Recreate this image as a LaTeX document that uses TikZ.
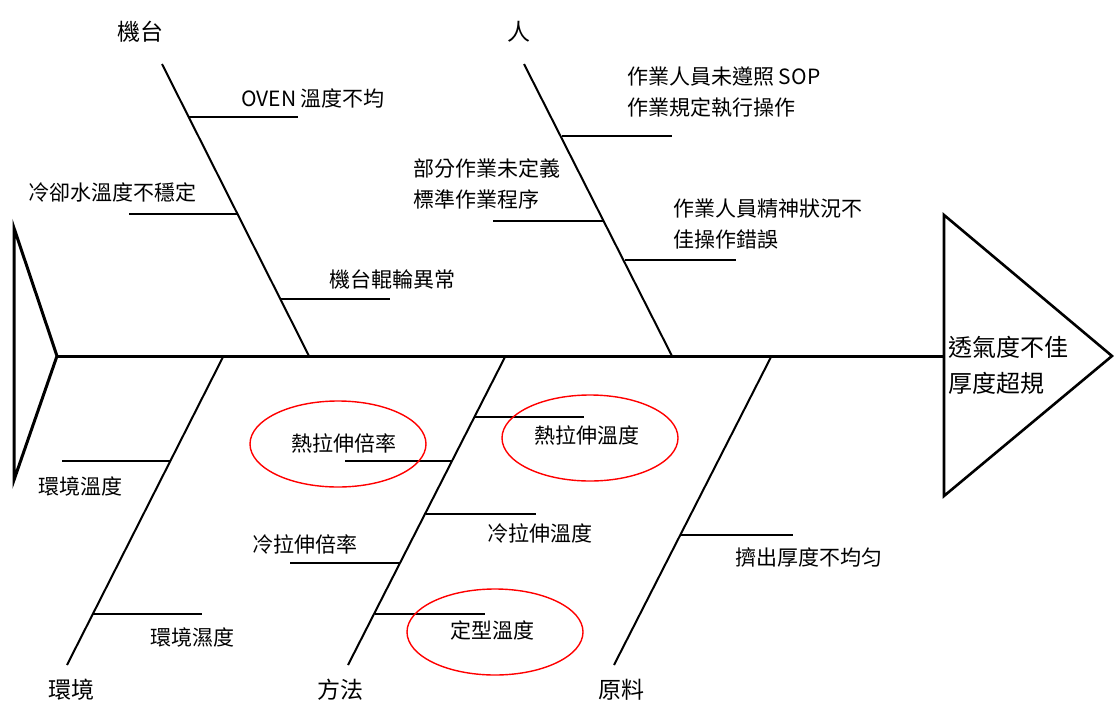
\documentclass[tikz,border=0pt]{standalone}
\usepackage{fontspec}
\setmainfont{Noto Sans CJK TC}
\usetikzlibrary{shapes.geometric}

\begin{document}
\begin{tikzpicture}[x=1pt,y=-1pt,
	bone/.style={line width=2pt},
	twig/.style={line width=2.4pt},
	txt/.style={inner sep=0pt,anchor=west,align=left,font=\fontsize{21}{31}\selectfont},
	cat/.style={inner sep=0pt,font=\fontsize{23}{27}\selectfont},
	ring/.style={draw=red,line width=1.4pt,ellipse,minimum width=176pt,minimum height=86pt}]
	\useasboundingbox (0,0) rectangle (1114,704);
	% tail, spine and head
	\coordinate (tt) at (14,228);
	\coordinate (tb) at (14,480);
	\coordinate (tm) at (57,356);
	\coordinate (ht) at (944,215);
	\coordinate (hb) at (944,496);
	\coordinate (hm) at (944,356);
	\coordinate (hp) at (1112,356);
	\draw[line width=3pt, line join=miter] (tt) -- (tb) -- (tm) -- cycle;
	\draw[line width=3pt] (tm) -- (hm);
	\draw[line width=2.6pt] (ht) -- (hp) -- (hb) -- cycle;
	\node[txt,font=\fontsize{24}{36}\selectfont] (effect) at (948,365) {透氣度不佳\\厚度超規};
	% main bones
	\coordinate (m0) at (162,64);  \coordinate (m1) at (309,356);
	\coordinate (p0) at (524,64);  \coordinate (p1) at (672,356);
	\coordinate (e0) at (223,357); \coordinate (e1) at (67,665);
	\coordinate (f0) at (505,357); \coordinate (f1) at (348,665);
	\coordinate (r0) at (771,357); \coordinate (r1) at (614,665);
	\draw[bone] (m0) -- (m1);
	\draw[bone] (p0) -- (p1);
	\draw[bone] (e0) -- (e1);
	\draw[bone] (f0) -- (f1);
	\draw[bone] (r0) -- (r1);
	\node[cat] (machine) at (140,32) {機台};
	\node[cat] (man) at (519,32) {人};
	\node[cat] (env) at (71,690) {環境};
	\node[cat] (method) at (340,690) {方法};
	\node[cat] (material) at (621,690) {原料};
	% machine
	\coordinate (ma) at (189,117); \coordinate (mb) at (298,117);
	\coordinate (mc) at (129,214); \coordinate (md) at (238,214);
	\coordinate (me) at (281,299); \coordinate (mf) at (390,299);
	\draw[twig] (ma) -- (mb);
	\draw[twig] (mc) -- (md);
	\draw[twig] (me) -- (mf);
	\node[txt] (oven) at (241,98) {OVEN 溫度不均};
	\node[txt] (water) at (28,192) {冷卻水溫度不穩定};
	\node[txt] (roller) at (329,279) {機台輥輪異常};
	% man
	\coordinate (pa) at (562,136); \coordinate (pb) at (672,136);
	\coordinate (pc) at (493,221); \coordinate (pd) at (603,221);
	\coordinate (pe) at (625,260); \coordinate (pf) at (736,260);
	\draw[twig] (pa) -- (pb);
	\draw[twig] (pc) -- (pd);
	\draw[twig] (pe) -- (pf);
	\node[txt] (sop) at (627,92) {作業人員未遵照 SOP\\作業規定執行操作};
	\node[txt] (undef) at (413,184) {部分作業未定義\\標準作業程序};
	\node[txt] (mind) at (673,224) {作業人員精神狀況不\\佳操作錯誤};
	% environment
	\coordinate (ea) at (62,461);  \coordinate (eb) at (170,461);
	\coordinate (ec) at (93,614);  \coordinate (ed) at (202,614);
	\draw[twig] (ea) -- (eb);
	\draw[twig] (ec) -- (ed);
	\node[txt] (etemp) at (38,486) {環境溫度};
	\node[txt] (ehum) at (150,637) {環境濕度};
	% method
	\coordinate (fa) at (475,417); \coordinate (fb) at (584,417);
	\coordinate (fc) at (345,461); \coordinate (fd) at (452,461);
	\coordinate (fe) at (426,514); \coordinate (ff) at (536,514);
	\coordinate (fg) at (290,563); \coordinate (fh) at (400,563);
	\coordinate (fi) at (375,614); \coordinate (fj) at (485,614);
	\draw[twig] (fa) -- (fb);
	\draw[twig] (fc) -- (fd);
	\draw[twig] (fe) -- (ff);
	\draw[twig] (fg) -- (fh);
	\draw[twig] (fi) -- (fj);
	\node[txt] (hotT) at (534,435) {熱拉伸溫度};
	\node[txt] (hotR) at (291,443) {熱拉伸倍率};
	\node[txt] (coldT) at (487,533) {冷拉伸溫度};
	\node[txt] (coldR) at (252,544) {冷拉伸倍率};
	\node[txt] (setT) at (450,630) {定型溫度};
	\node[ring] (ringA) at (338,444) {};
	\node[ring] (ringB) at (590,438) {};
	\node[ring] (ringC) at (495,632) {};
	% material
	\coordinate (ra) at (681,535); \coordinate (rb) at (793,535);
	\draw[twig] (ra) -- (rb);
	\node[txt] (extr) at (735,557) {擠出厚度不均匀};
\end{tikzpicture}
\end{document}
